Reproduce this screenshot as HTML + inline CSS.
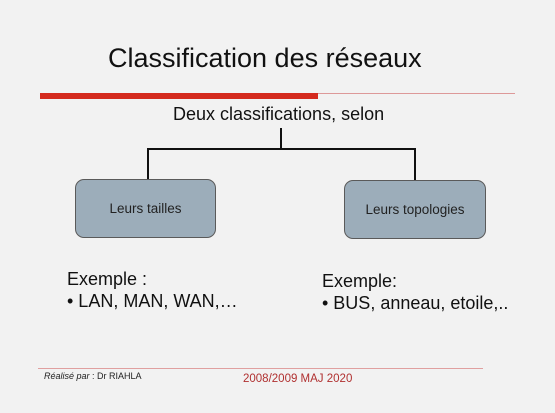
<!DOCTYPE html>
<html><head><meta charset="utf-8"><style>
body{margin:0;width:555px;height:413px;overflow:hidden;background:#f2f2f2;font-family:"Liberation Sans",sans-serif;position:relative}
.a{position:absolute;white-space:nowrap}
.box{position:absolute;background:#9cadba;border:1.5px solid #5a5a5a;border-radius:9px;display:flex;align-items:center;justify-content:center;font-size:13.5px;color:#222}
</style></head><body>
<div class="a" style="left:108px;top:43px;font-size:27px;color:#111">Classification des réseaux</div>
<div class="a" style="left:40px;top:93px;width:278px;height:6px;background:#d42a1e"></div>
<div class="a" style="left:318px;top:93px;width:197px;height:1px;background:#d99"></div>
<div class="a" style="left:173px;top:104px;font-size:18px;color:#111">Deux classifications, selon</div>
<svg class="a" style="left:0;top:0" width="555" height="413">
<path d="M281 128V149M148 179V149H415V180" stroke="#111" stroke-width="2" fill="none"/>
</svg>
<div class="box" style="left:75px;top:179px;width:139px;height:57px">Leurs tailles</div>
<div class="box" style="left:344px;top:180px;width:140px;height:57px">Leurs topologies</div>
<div class="a" style="left:67px;top:268px;font-size:18px;line-height:22px;color:#111">Exemple :<br>• LAN, MAN, WAN,…</div>
<div class="a" style="left:322px;top:270px;font-size:18px;line-height:22px;color:#111">Exemple:<br>• BUS, anneau, etoile,..</div>
<div class="a" style="left:38px;top:368px;width:445px;height:1px;background:#e0a0a0"></div>
<div class="a" style="left:44px;top:371px;font-size:9px;color:#222"><i>Réalisé par</i> : Dr RIAHLA</div>
<div class="a" style="left:243px;top:373px;font-size:11.5px;color:#b03030">2008/2009 MAJ 2020</div>
</body></html>
